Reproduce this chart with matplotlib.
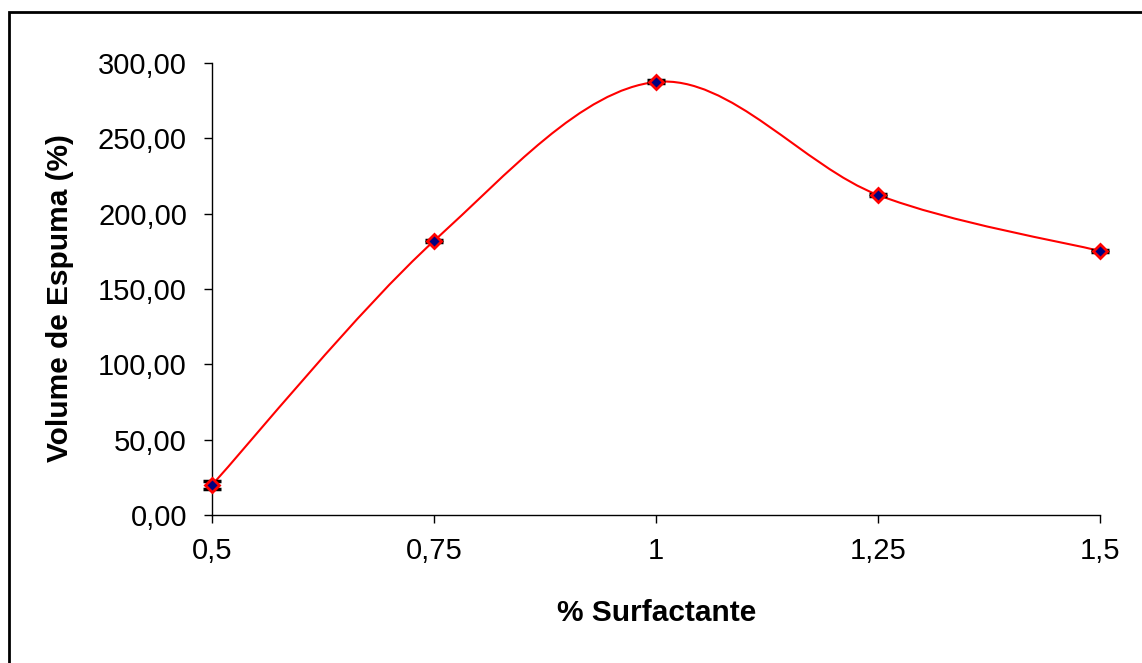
import matplotlib
matplotlib.use("Agg")
import matplotlib.pyplot as plt
from matplotlib.path import Path
from matplotlib.patches import PathPatch, Rectangle

# data
surfactante = [0.5, 0.75, 1.0, 1.25, 1.5]
volume = [19.9, 181.9, 287.4, 212.4, 175.2]
erro = [2.7, 0.6, 1.0, 0.8, 0.6]

x_ticks = [0.5, 0.75, 1.0, 1.25, 1.5]
x_tick_labels = ['0,5', '0,75', '1', '1,25', '1,5']
y_ticks = [0, 50, 100, 150, 200, 250, 300]
y_tick_labels = ['0,00', '50,00', '100,00', '150,00', '200,00', '250,00', '300,00']

plt.rcParams['font.family'] = ['Liberation Sans', 'DejaVu Sans']

fig = plt.figure(figsize=(11.42, 6.63), dpi=100)
ax = fig.add_axes([212/1142, 1-515/663, (1100-212)/1142, (515-63)/663])

# smoothed line (bezier through the points, like the spreadsheet "smooth line")
verts = [(surfactante[0], volume[0])]
codes = [Path.MOVETO]
n = len(surfactante)
for i in range(n - 1):
    p0 = (surfactante[max(i-1, 0)], volume[max(i-1, 0)])
    p1 = (surfactante[i], volume[i])
    p2 = (surfactante[i+1], volume[i+1])
    p3 = (surfactante[min(i+2, n-1)], volume[min(i+2, n-1)])
    c1 = (p1[0] + (p2[0]-p0[0])/6, p1[1] + (p2[1]-p0[1])/6)
    c2 = (p2[0] - (p3[0]-p1[0])/6, p2[1] - (p3[1]-p1[1])/6)
    verts += [c1, c2, p2]
    codes += [Path.CURVE4, Path.CURVE4, Path.CURVE4]
ax.add_patch(PathPatch(Path(verts, codes), facecolor='none', edgecolor='red', lw=1.5,
                       zorder=2, clip_on=False))

# error bars (caps only visible)
eb = ax.errorbar(surfactante, volume, yerr=erro, fmt='none', ecolor='black',
                 elinewidth=1.5, capsize=6.5, capthick=2.5, zorder=3)
for art in eb.lines[1] + eb.lines[2]:
    art.set_clip_on(False)
ax.plot(surfactante, volume, linestyle='none', marker='D', markersize=7.5,
        markerfacecolor='#000080', markeredgecolor='red', markeredgewidth=2,
        zorder=4, clip_on=False)

ax.set_xlim(0.5, 1.5)
ax.set_ylim(0, 300)
ax.set_xticks(x_ticks)
ax.set_xticklabels(x_tick_labels)
ax.set_yticks(y_ticks)
ax.set_yticklabels(y_tick_labels)
ax.spines['top'].set_visible(False)
ax.spines['right'].set_visible(False)
for s in ['left', 'bottom']:
    ax.spines[s].set_linewidth(1.0)
ax.tick_params(axis='both', direction='out', length=6, width=1.0, labelsize=21, pad=10)
ax.tick_params(axis='y', pad=12)

fig.text(657/1142, 1-613/663, '% Surfactante', ha='center', va='center',
         fontsize=21.5, fontweight='bold')
fig.text(60/1142, 1-298/663, 'Volume de Espuma (%)', ha='center', va='center',
         rotation=90, fontsize=21.5, fontweight='bold')

# outer frame (runs off the right and bottom of the picture)
fig.patches.append(Rectangle((9/1142, -0.05), 1.2, 1-12/663+0.05, transform=fig.transFigure,
                             fill=False, edgecolor='black', lw=2, clip_on=False))

fig.savefig('out.png', dpi=100)
